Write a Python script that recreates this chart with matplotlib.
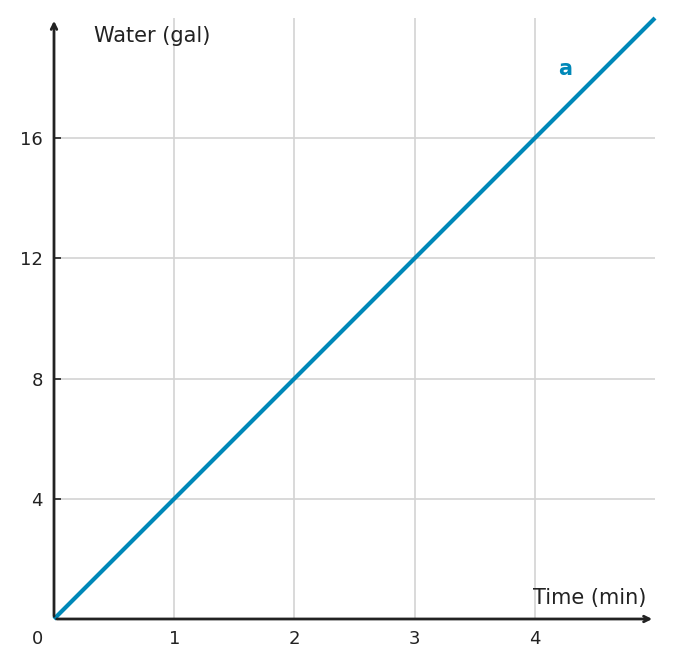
import matplotlib
matplotlib.use("Agg")
import matplotlib.pyplot as plt

x_vals = [0, 5]
y_vals = [0, 20]
x_ticks = [1, 2, 3, 4]
y_ticks = [4, 8, 12, 16]
line_label = "a"

fig = plt.figure(figsize=(6.74, 6.68), dpi=100)
ax = fig.add_axes([54/674, 49/668, (655-54)/674, (619-18)/668])
ax.set_xlim(0, 5)
ax.set_ylim(0, 20)
for s in ax.spines.values():
    s.set_visible(False)
ax.set_xticks(x_ticks)
ax.set_yticks(y_ticks)
ax.grid(True, color="#d3d3d3", linewidth=1.2)
ax.tick_params(axis="both", labelsize=13, colors="#222222", length=5, width=1.2)
ax.tick_params(axis="x", length=0, pad=8)
ax.tick_params(axis="y", direction="in", pad=8)
ax.annotate("", xy=(5.0, 0), xytext=(0, 0), xycoords="data",
            arrowprops=dict(arrowstyle="->", color="#222222", lw=2), annotation_clip=False)
ax.annotate("", xy=(0, 20), xytext=(0, 0),
            arrowprops=dict(arrowstyle="->", color="#222222", lw=2), annotation_clip=False)
ax.plot(x_vals, y_vals, color="#0088b8", lw=3, solid_capstyle="butt", clip_on=False)
ax.text(4.25, 18.3, line_label, color="#0088b8", fontsize=15, fontweight="bold", ha="center", va="center")
ax.text(0.33, 19.4, "Water (gal)", fontsize=15, color="#222222", va="center")
ax.text(4.93, 0.7, "Time (min)", fontsize=15, color="#222222", ha="right", va="center")
ax.text(-0.14, -0.65, "0", fontsize=13, color="#222222", ha="center", va="center")
fig.savefig("out.png", dpi=100)
